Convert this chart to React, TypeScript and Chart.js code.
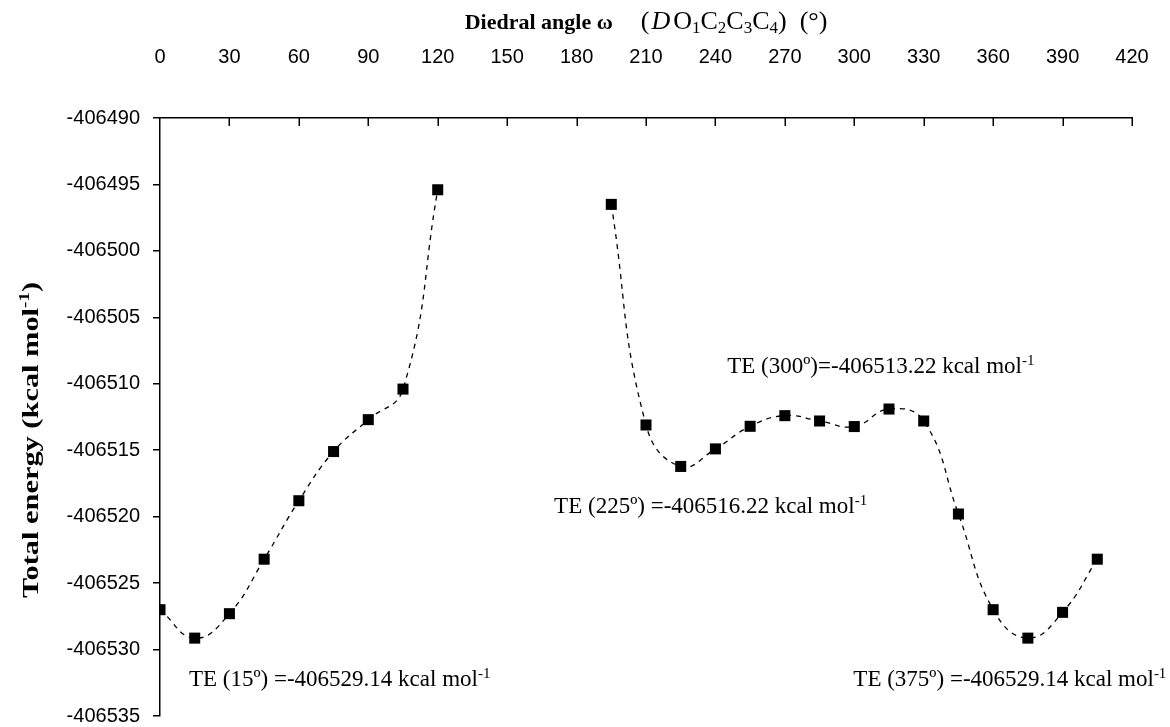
import React, { useEffect, useRef } from "react";
import { Chart, registerables } from "chart.js";

Chart.register(...registerables);

// ---- Data ----
const anglesLeft = [0, 15, 30, 45, 60, 75, 90, 105, 120];
const energiesLeft = [
  -406527.0, -406529.14, -406527.3, -406523.2, -406518.8, -406515.1, -406512.7,
  -406510.4, -406495.4,
];
const anglesRight = [195, 210, 225, 240, 255, 270, 285, 300, 315, 330, 345, 360, 375, 390, 405];
const energiesRight = [
  -406496.5, -406513.1, -406516.22, -406514.9, -406513.2, -406512.4, -406512.8,
  -406513.22, -406511.9, -406512.8, -406519.8, -406527.0, -406529.14, -406527.2,
  -406523.2,
];

const xMin = 0;
const xMax = 420;
const xStep = 30;
const yMin = -406535;
const yMax = -406490;
const yStep = 5;

// Annotation texts and their anchors (left edge / baseline in data units)
const noteTexts = [
  "TE (15º) =-406529.14 kcal mol",
  "TE (225º) =-406516.22 kcal mol",
  "TE (300º)=-406513.22 kcal mol",
  "TE (375º) =-406529.14 kcal mol",
];
const noteAngles = [12.5, 170.3, 245.1, 299.6];
const noteEnergies = [-406532.75, -406519.7, -406509.2, -406532.75];
const noteSup = "-1";

const SERIF = '"Liberation Serif", "Times New Roman", serif';
const SANS = '"Liberation Sans", Arial, sans-serif';

type Seg = { t: string; font: string; dy?: number; gap?: number };

function measureSegs(ctx: CanvasRenderingContext2D, segs: Seg[]) {
  let w = 0;
  for (const s of segs) {
    ctx.font = s.font;
    w += ctx.measureText(s.t).width + (s.gap || 0);
  }
  return w;
}

function drawSegs(ctx: CanvasRenderingContext2D, segs: Seg[], x: number, y: number) {
  let cx = x;
  for (const s of segs) {
    ctx.font = s.font;
    ctx.fillText(s.t, cx, y + (s.dy || 0));
    cx += ctx.measureText(s.t).width + (s.gap || 0);
  }
  return cx;
}

const textPlugin = {
  id: "textPlugin",
  afterDraw(chart: any) {
    const { ctx, chartArea, scales } = chart;
    const xs = scales.x;
    const ys = scales.y;
    ctx.save();
    ctx.fillStyle = "#000";
    ctx.textBaseline = "alphabetic";
    ctx.textAlign = "left";

    // inward tick marks on the top axis
    ctx.strokeStyle = "#000";
    ctx.lineWidth = 1.5;
    ctx.beginPath();
    for (let v = xMin + xStep; v <= xMax; v += xStep) {
      const px = Math.round(xs.getPixelForValue(v)) + 0.25;
      ctx.moveTo(px, chartArea.top);
      ctx.lineTo(px, chartArea.top + 8);
    }
    ctx.stroke();

    // Title
    const sub = `17px ${SERIF}`;
    const reg = `26px ${SERIF}`;
    const titleSegs: Seg[] = [
      { t: "Diedral angle ω", font: `bold 22px ${SERIF}`, gap: 28 },
      { t: "(", font: reg, gap: 2 },
      { t: "D", font: `italic 26px ${SERIF}`, gap: 3 },
      { t: "O", font: reg },
      { t: "1", font: sub, dy: 4 },
      { t: "C", font: reg },
      { t: "2", font: sub, dy: 4 },
      { t: "C", font: reg },
      { t: "3", font: sub, dy: 4 },
      { t: "C", font: reg },
      { t: "4", font: sub, dy: 4 },
      { t: ")  (°)", font: reg },
    ];
    const tw = measureSegs(ctx, titleSegs);
    const tcx = (chartArea.left + chartArea.right) / 2;
    drawSegs(ctx, titleSegs, tcx - tw / 2, 29);

    // Y axis title (rotated)
    const ySegs: Seg[] = [
      { t: "Total energy (kcal mol", font: `bold 24px ${SERIF}` },
      { t: "-1", font: `bold 15px ${SERIF}`, dy: -9 },
      { t: ")", font: `bold 24px ${SERIF}` },
    ];
    const yw = measureSegs(ctx, ySegs);
    const targetLen = 316;
    const sx = targetLen / yw;
    ctx.save();
    ctx.translate(38, 440);
    ctx.rotate(-Math.PI / 2);
    ctx.scale(sx, 1);
    drawSegs(ctx, ySegs, -yw / 2, 0);
    ctx.restore();

    // Annotations
    for (let i = 0; i < noteTexts.length; i++) {
      const px = xs.getPixelForValue(noteAngles[i]);
      const py = ys.getPixelForValue(noteEnergies[i]);
      drawSegs(
        ctx,
        [
          { t: noteTexts[i], font: `23px ${SERIF}` },
          { t: noteSup, font: `15px ${SERIF}`, dy: -8 },
        ],
        px,
        py
      );
    }
    ctx.restore();
  },
};

function makeData(angles: number[], energies: number[]) {
  return angles.map((a, i) => ({ x: a, y: energies[i] }));
}

export default function App() {
  const ref = useRef<HTMLCanvasElement | null>(null);

  useEffect(() => {
    if (!ref.current) return;
    const lineStyle = {
      borderColor: "#000",
      borderWidth: 1.3,
      borderDash: [5, 5],
      tension: 0.45,
      pointStyle: "rect" as const,
      pointRadius: 7.8,
      pointHoverRadius: 7.8,
      pointBackgroundColor: "#000",
      pointBorderColor: "#000",
      pointBorderWidth: 0,
      fill: false,
    };
    const tickFont = { family: SANS, size: 20 };
    const chart = new Chart(ref.current, {
      type: "line",
      data: {
        datasets: [
          { label: "a", data: makeData(anglesLeft, energiesLeft), ...lineStyle },
          { label: "b", data: makeData(anglesRight, energiesRight), ...lineStyle },
        ],
      },
      plugins: [textPlugin],
      options: {
        responsive: false,
        animation: false,
        layout: { padding: { left: 0, right: 38, top: 0, bottom: 11 } },
        plugins: {
          legend: { display: false },
          tooltip: { enabled: false },
          title: { display: false },
        },
        scales: {
          x: {
            type: "linear",
            position: "top",
            min: xMin,
            max: xMax,
            ticks: {
              stepSize: xStep,
              font: tickFont,
              color: "#000",
              padding: 49,
              maxRotation: 0,
              autoSkip: false,
              callback: (v: any) => String(v),
            },
            grid: { display: false, drawTicks: false },
            border: { display: true, color: "#000", width: 1.5 },
            afterFit: (s: any) => {
              s.height = 118;
              s.paddingLeft = 0;
              s.paddingRight = 0;
            },
          },
          y: {
            type: "linear",
            min: yMin,
            max: yMax,
            ticks: {
              stepSize: yStep,
              font: tickFont,
              color: "#000",
              padding: 13,
              autoSkip: false,
              callback: (v: any) => String(v),
            },
            grid: { drawOnChartArea: false, tickLength: 7, color: "#000", lineWidth: 1.5 },
            border: { display: true, color: "#000", width: 1.5 },
            afterFit: (s: any) => {
              s.width = 160;
              s.paddingTop = 0;
              s.paddingBottom = 0;
            },
          },
        },
      },
    } as any);
    return () => chart.destroy();
  }, []);

  return (
    <div style={{ position: "fixed", left: 0, top: 0, width: 1170, height: 727, background: "#fff" }}>
      <canvas ref={ref} width={1170} height={727} style={{ display: "block" }} />
    </div>
  );
}
